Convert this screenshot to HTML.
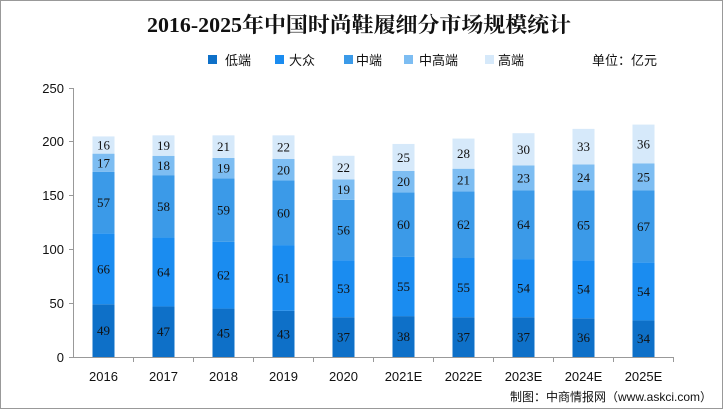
<!DOCTYPE html>
<html><head><meta charset="utf-8"><style>
html,body{margin:0;padding:0;background:#fff}
svg{display:block}
text{font-family:"Liberation Sans","Noto Sans CJK SC",sans-serif}
.v{font-family:"Liberation Serif","Noto Serif CJK SC",serif;font-size:13px;text-anchor:middle;dominant-baseline:central;fill:#111}
.t{font-size:13px;fill:#111}
</style></head><body>
<svg width="723" height="412" viewBox="0 0 723 412" xmlns="http://www.w3.org/2000/svg">
<rect x="0.5" y="0.5" width="722" height="408" fill="#fff" stroke="#999"/>
<text x="359" y="32" text-anchor="middle" textLength="424" lengthAdjust="spacingAndGlyphs" style="font-family:'Liberation Serif','Noto Serif CJK SC',serif;font-weight:bold;font-size:21px" fill="#111">2016-2025年中国时尚鞋履细分市场规模统计</text>
<!-- legend -->
<g class="t">
<rect x="208" y="55" width="9" height="9" fill="#0e70c8"/><text x="225" y="65" class="t">低端</text>
<rect x="275" y="55" width="9" height="9" fill="#1a8cf0"/><text x="289" y="65" class="t">大众</text>
<rect x="344" y="55" width="9" height="9" fill="#3b9ae8"/><text x="356" y="65" class="t">中端</text>
<rect x="404" y="55" width="9" height="9" fill="#7dbdf2"/><text x="419" y="65" class="t">中高端</text>
<rect x="485" y="55" width="9" height="9" fill="#d6e9fa"/><text x="498" y="65" class="t">高端</text>
<text x="592" y="65" class="t">单位：亿元</text>
</g>
<!-- axes -->
<g stroke="#999" stroke-width="1">
<line x1="73.5" y1="88" x2="73.5" y2="357"/>
<line x1="73" y1="357.5" x2="673" y2="357.5"/>
<line x1="69" y1="88.5" x2="73" y2="88.5"/><line x1="69" y1="141.5" x2="73" y2="141.5"/><line x1="69" y1="195.5" x2="73" y2="195.5"/><line x1="69" y1="249.5" x2="73" y2="249.5"/><line x1="69" y1="303.5" x2="73" y2="303.5"/><line x1="69" y1="357.5" x2="73" y2="357.5"/>
<line x1="133.5" y1="357" x2="133.5" y2="362"/><line x1="193.5" y1="357" x2="193.5" y2="362"/><line x1="253.5" y1="357" x2="253.5" y2="362"/><line x1="313.5" y1="357" x2="313.5" y2="362"/><line x1="373.5" y1="357" x2="373.5" y2="362"/><line x1="433.5" y1="357" x2="433.5" y2="362"/><line x1="493.5" y1="357" x2="493.5" y2="362"/><line x1="553.5" y1="357" x2="553.5" y2="362"/><line x1="613.5" y1="357" x2="613.5" y2="362"/><line x1="673.5" y1="357" x2="673.5" y2="362"/>
</g>
<g class="t" text-anchor="end">
<text x="64" y="93">250</text><text x="64" y="146">200</text><text x="64" y="200">150</text><text x="64" y="254">100</text><text x="64" y="308">50</text><text x="64" y="362">0</text>
</g>
<g class="t" text-anchor="middle">
<text x="103.5" y="381">2016</text><text x="163.5" y="381">2017</text><text x="223.5" y="381">2018</text><text x="283.5" y="381">2019</text><text x="343.5" y="381">2020</text><text x="403.5" y="381">2021E</text><text x="463.5" y="381">2022E</text><text x="523.5" y="381">2023E</text><text x="583.5" y="381">2024E</text><text x="643.5" y="381">2025E</text>
</g>
<!-- bars in data units -->
<g transform="translate(0,357) scale(1,-1.076)">
<g transform="translate(92.5,0)"><rect width="22" y="0" height="49" fill="#0e70c8"/><rect width="22" y="49" height="66" fill="#1a8cf0"/><rect width="22" y="115" height="57" fill="#3b9ae8"/><rect width="22" y="172" height="17" fill="#7dbdf2"/><rect width="22" y="189" height="16" fill="#d6e9fa"/></g>
<g transform="translate(152.5,0)"><rect width="22" y="0" height="47" fill="#0e70c8"/><rect width="22" y="47" height="64" fill="#1a8cf0"/><rect width="22" y="111" height="58" fill="#3b9ae8"/><rect width="22" y="169" height="18" fill="#7dbdf2"/><rect width="22" y="187" height="19" fill="#d6e9fa"/></g>
<g transform="translate(212.5,0)"><rect width="22" y="0" height="45" fill="#0e70c8"/><rect width="22" y="45" height="62" fill="#1a8cf0"/><rect width="22" y="107" height="59" fill="#3b9ae8"/><rect width="22" y="166" height="19" fill="#7dbdf2"/><rect width="22" y="185" height="21" fill="#d6e9fa"/></g>
<g transform="translate(272.5,0)"><rect width="22" y="0" height="43" fill="#0e70c8"/><rect width="22" y="43" height="61" fill="#1a8cf0"/><rect width="22" y="104" height="60" fill="#3b9ae8"/><rect width="22" y="164" height="20" fill="#7dbdf2"/><rect width="22" y="184" height="22" fill="#d6e9fa"/></g>
<g transform="translate(332.5,0)"><rect width="22" y="0" height="37" fill="#0e70c8"/><rect width="22" y="37" height="53" fill="#1a8cf0"/><rect width="22" y="90" height="56" fill="#3b9ae8"/><rect width="22" y="146" height="19" fill="#7dbdf2"/><rect width="22" y="165" height="22" fill="#d6e9fa"/></g>
<g transform="translate(392.5,0)"><rect width="22" y="0" height="38" fill="#0e70c8"/><rect width="22" y="38" height="55" fill="#1a8cf0"/><rect width="22" y="93" height="60" fill="#3b9ae8"/><rect width="22" y="153" height="20" fill="#7dbdf2"/><rect width="22" y="173" height="25" fill="#d6e9fa"/></g>
<g transform="translate(452.5,0)"><rect width="22" y="0" height="37" fill="#0e70c8"/><rect width="22" y="37" height="55" fill="#1a8cf0"/><rect width="22" y="92" height="62" fill="#3b9ae8"/><rect width="22" y="154" height="21" fill="#7dbdf2"/><rect width="22" y="175" height="28" fill="#d6e9fa"/></g>
<g transform="translate(512.5,0)"><rect width="22" y="0" height="37" fill="#0e70c8"/><rect width="22" y="37" height="54" fill="#1a8cf0"/><rect width="22" y="91" height="64" fill="#3b9ae8"/><rect width="22" y="155" height="23" fill="#7dbdf2"/><rect width="22" y="178" height="30" fill="#d6e9fa"/></g>
<g transform="translate(572.5,0)"><rect width="22" y="0" height="36" fill="#0e70c8"/><rect width="22" y="36" height="54" fill="#1a8cf0"/><rect width="22" y="90" height="65" fill="#3b9ae8"/><rect width="22" y="155" height="24" fill="#7dbdf2"/><rect width="22" y="179" height="33" fill="#d6e9fa"/></g>
<g transform="translate(632.5,0)"><rect width="22" y="0" height="34" fill="#0e70c8"/><rect width="22" y="34" height="54" fill="#1a8cf0"/><rect width="22" y="88" height="67" fill="#3b9ae8"/><rect width="22" y="155" height="25" fill="#7dbdf2"/><rect width="22" y="180" height="36" fill="#d6e9fa"/></g>
</g>
<!-- value labels -->
<g class="v">
<text class="v" x="103.5" y="330.6">49</text><text class="v" x="103.5" y="268.8">66</text><text class="v" x="103.5" y="202.6">57</text><text class="v" x="103.5" y="162.8">17</text><text class="v" x="103.5" y="145">16</text>
<text class="v" x="163.5" y="331.7">47</text><text class="v" x="163.5" y="272">64</text><text class="v" x="163.5" y="206.4">58</text><text class="v" x="163.5" y="165.5">18</text><text class="v" x="163.5" y="145.6">19</text>
<text class="v" x="223.5" y="332.8">45</text><text class="v" x="223.5" y="275.2">62</text><text class="v" x="223.5" y="210.1">59</text><text class="v" x="223.5" y="168.2">19</text><text class="v" x="223.5" y="146.6">21</text>
<text class="v" x="283.5" y="333.9">43</text><text class="v" x="283.5" y="277.9">61</text><text class="v" x="283.5" y="212.8">60</text><text class="v" x="283.5" y="169.8">20</text><text class="v" x="283.5" y="147.2">22</text>
<text class="v" x="343.5" y="337.1">37</text><text class="v" x="343.5" y="288.7">53</text><text class="v" x="343.5" y="230">56</text><text class="v" x="343.5" y="189.7">19</text><text class="v" x="343.5" y="167.6">22</text>
<text class="v" x="403.5" y="336.6">38</text><text class="v" x="403.5" y="286.5">55</text><text class="v" x="403.5" y="224.7">60</text><text class="v" x="403.5" y="181.6">20</text><text class="v" x="403.5" y="157.4">25</text>
<text class="v" x="463.5" y="337.1">37</text><text class="v" x="463.5" y="287.6">55</text><text class="v" x="463.5" y="224.7">62</text><text class="v" x="463.5" y="180">21</text><text class="v" x="463.5" y="153.6">28</text>
<text class="v" x="523.5" y="337.1">37</text><text class="v" x="523.5" y="288.1">54</text><text class="v" x="523.5" y="224.7">64</text><text class="v" x="523.5" y="177.8">23</text><text class="v" x="523.5" y="149.3">30</text>
<text class="v" x="583.5" y="337.6">36</text><text class="v" x="583.5" y="289.2">54</text><text class="v" x="583.5" y="225.2">65</text><text class="v" x="583.5" y="177.3">24</text><text class="v" x="583.5" y="146.6">33</text>
<text class="v" x="643.5" y="338.7">34</text><text class="v" x="643.5" y="291.4">54</text><text class="v" x="643.5" y="226.3">67</text><text class="v" x="643.5" y="176.8">25</text><text class="v" x="643.5" y="143.9">36</text>
</g>
<text x="712" y="401" text-anchor="end" style="font-size:12px" fill="#111">制图：中商情报网（www.askci.com）</text>
</svg>
</body></html>
